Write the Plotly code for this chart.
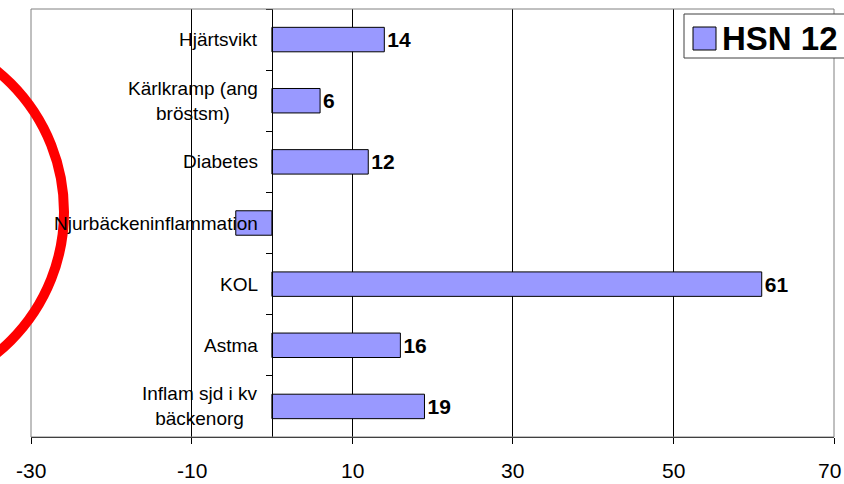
import plotly.graph_objects as go

# Category names (top to bottom), bar values and value labels
categories = [
    "Hjärtsvikt",
    "Kärlkramp (ang<br>bröstsm)",
    "Diabetes",
    "Njurbäckeninflammation",
    "KOL",
    "Astma",
    "Inflam sjd i kv<br>bäckenorg",
]
values = [14, 6, 12, -4.5, 61, 16, 19]
value_labels = ["14", "6", "12", "", "61", "16", "19"]
series_name = "HSN 12"
x_ticks = [-30, -10, 10, 30, 50, 70]

FONT = "Arial, Liberation Sans, sans-serif"
BAR_FILL = "#9999FF"

W, H = 844, 484
ML, MR, MT, MB = 31, 10, 9, 47
PW, PH = W - ML - MR, H - MT - MB


def px(x):
    return (x - ML) / PW


def py(y):
    return (H - MB - y) / PH


fig = go.Figure()
fig.add_trace(go.Bar(
    y=list(range(len(categories))),
    x=values,
    orientation="h",
    width=0.4,
    marker=dict(color=BAR_FILL, line=dict(color="#000000", width=1)),
    text=value_labels,
    textposition="outside",
    constraintext="none",
    outsidetextfont=dict(family=FONT, size=21, color="#000000", weight="bold"),
    cliponaxis=False,
    name=series_name,
    showlegend=False,
    hoverinfo="skip",
))

annotations = []
# category labels, right-aligned against the zero axis, lines centred
for i, cat in enumerate(categories):
    annotations.append(dict(
        x=0, y=i, xref="x", yref="y",
        text=cat, showarrow=False,
        xanchor="right", yanchor="middle", align="center", xshift=-12,
        font=dict(family=FONT, size=19, color="#000000"),
    ))

# value-axis tick labels; the last one is kept flush with the page edge
for v in x_ticks:
    last = v == x_ticks[-1]
    annotations.append(dict(
        x=v, y=0, xref="x", yref="paper",
        text=str(v), showarrow=False,
        xanchor="right" if last else "center", yanchor="middle",
        xshift=MR - 1 if last else 0, yshift=-33,
        font=dict(family=FONT, size=21, color="#000000"),
    ))

# Legend drawn by hand: box, swatch and series name
annotations.append(dict(
    x=px(720), y=py(38), xref="paper", yref="paper",
    text=f"<b>{series_name}</b>", showarrow=False,
    xanchor="left", yanchor="middle",
    font=dict(family=FONT, size=33, color="#000000"),
))

shapes = [
    # plot area frame
    dict(type="rect", xref="paper", yref="paper", x0=0, x1=1, y0=0, y1=1,
         line=dict(color="#808080", width=1), layer="above"),
    # legend box
    dict(type="rect", xref="paper", yref="paper",
         x0=px(684), x1=px(860), y0=py(58), y1=py(14),
         fillcolor="#FFFFFF", line=dict(color="#404040", width=1), layer="above"),
    dict(type="rect", xref="paper", yref="paper",
         x0=px(693), x1=px(716), y0=py(50), y1=py(27),
         fillcolor=BAR_FILL, line=dict(color="#000000", width=1), layer="above"),
    # red highlight ring
    dict(type="circle", xref="paper", yref="paper",
         x0=px(-300), x1=px(64), y0=py(394), y1=py(30),
         line=dict(color="#FF0000", width=10), layer="above"),
]

fig.update_layout(
    width=W, height=H,
    margin=dict(l=ML, r=MR, t=MT, b=MB, pad=0),
    paper_bgcolor="#FFFFFF",
    plot_bgcolor="#FFFFFF",
    font=dict(family=FONT, color="#000000"),
    xaxis=dict(
        range=[-30, 70],
        tickvals=x_ticks,
        showticklabels=False,
        showgrid=True, gridcolor="#000000", gridwidth=1,
        zeroline=False,
        showline=True, linecolor="#000000", linewidth=1,
        ticks="outside", ticklen=6, tickcolor="#000000",
        fixedrange=True,
    ),
    yaxis=dict(
        range=[len(categories) - 0.5, -0.5],
        tickvals=[i + 0.5 for i in range(-1, len(categories))],
        showticklabels=False,
        anchor="free", position=px(ML + PW * 0.3),
        showgrid=False, zeroline=False,
        showline=True, linecolor="#000000", linewidth=1,
        ticks="outside", ticklen=6, tickcolor="#000000",
        fixedrange=True,
    ),
    annotations=annotations,
    shapes=shapes,
    showlegend=False,
)

fig.write_html("out.html")
